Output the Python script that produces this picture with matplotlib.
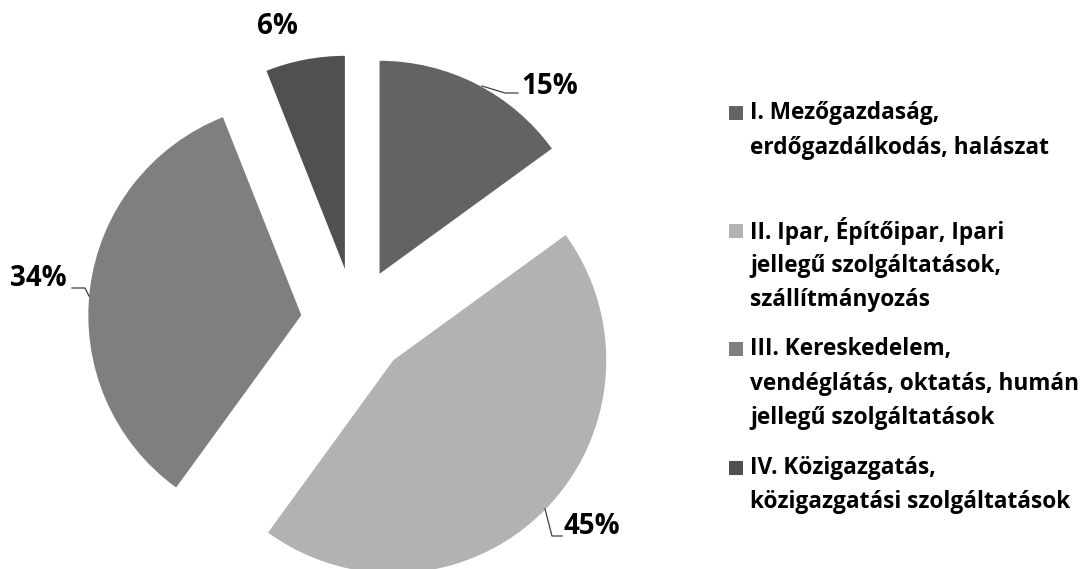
import matplotlib
matplotlib.use("Agg")
import matplotlib.pyplot as plt
from matplotlib.patches import Rectangle

# ---- data ----
categories = [
    "I. Mezőgazdaság,\nerdőgazdálkodás, halászat",
    "II. Ipar, Építőipar, Ipari\njellegű szolgáltatások,\nszállítmányozás",
    "III. Kereskedelem,\nvendéglátás, oktatás, humán\njellegű szolgáltatások",
    "IV. Közigazgatás,\nközigazgatási szolgáltatások",
]
values = [15, 45, 34, 6]
pct_labels = ["15%", "45%", "34%", "6%"]
colors = ["#636363", "#b2b2b2", "#7f7f7f", "#505050"]

# ---- layout (pixels) ----
W, H = 1091, 569
CX, CY, R = 355, 322, 213
FONT = ["Open Sans", "DejaVu Sans"]

def d(px, py):
    return (px - CX) / R, (CY - py) / R

fig = plt.figure(figsize=(W / 100, H / 100), dpi=100)
ax = fig.add_axes([0, 0, 1, 1])

wedges, _ = ax.pie(values, colors=colors, startangle=90, counterclock=False,
                   explode=[0.254] * 4, radius=1.0, center=(0, 0),
                   wedgeprops=dict(linewidth=0))
ax.set_xlim(-CX / R, (W - CX) / R)
ax.set_ylim(-(H - CY) / R, CY / R)
ax.set_aspect("auto")
ax.axis("off")

# percentage labels (pixel positions) and leader lines
label_pos = [(521, 86, "left"), (564, 527, "left"), (67, 279, "right"), (277, 27, "center")]
leaders = [
    [(482, 86), (505, 93), (518, 93)],
    [(545, 509), (552, 536), (562, 536)],
    [(89, 296), (85, 288), (72, 288)],
    None,
]
for lab, (px, py, ha), ld in zip(pct_labels, label_pos, leaders):
    x, y = d(px, py)
    ax.text(x, y, lab, ha=ha, va="center", fontsize=20, fontweight="bold",
            family=FONT, color="#000000")
    if ld:
        xs, ys = zip(*[d(a, b) for a, b in ld])
        ax.plot(xs, ys, color="#404040", lw=0.9)

# legend
legend_y = [113, 231, 349, 468]
line_h = 34.5
for name, col, ly in zip(categories, colors, legend_y):
    fig.patches.append(Rectangle((729 / W, 1 - (ly + 7) / H), 14 / W, 14 / H,
                                 transform=fig.transFigure, facecolor=col,
                                 edgecolor="none"))
    for i, line in enumerate(name.split("\n")):
        fig.text(750 / W, 1 - (ly + i * line_h) / H, line, ha="left", va="center",
                 fontsize=16.3, fontweight="bold", family=FONT, color="#000000")

fig.savefig("out.png", dpi=100)
